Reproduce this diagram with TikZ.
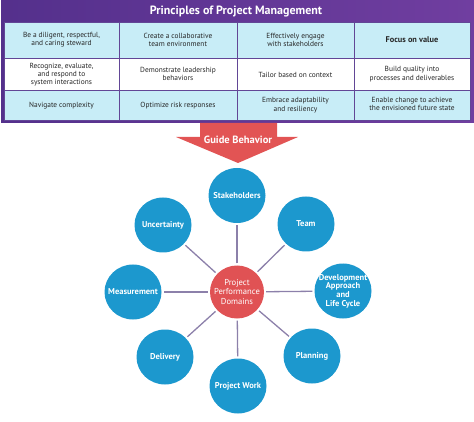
\documentclass[tikz,border=0pt]{standalone}
\usepackage{fontspec}
\setmainfont{PT Sans}
\usetikzlibrary{shapes.geometric}

\definecolor{tablepurple}{RGB}{84,48,140}
\definecolor{titlepurple}{RGB}{112,62,160}
\definecolor{gridpurple}{RGB}{98,70,150}
\definecolor{rowcyan}{RGB}{200,237,247}
\definecolor{arrowred}{RGB}{226,84,84}
\definecolor{hubred}{RGB}{224,82,84}
\definecolor{domainblue}{RGB}{28,152,206}
\definecolor{linkgrey}{RGB}{140,128,170}

\begin{document}
\begin{tikzpicture}[x=1pt,y=-1pt,
  cell/.style={font=\fontsize{7.4}{8.3}\selectfont,text=black!85,align=center,anchor=center},
  domainnode/.style={ellipse,fill=domainblue,minimum width=57pt,minimum height=55pt,inner sep=-7pt,
    text=white,font=\fontsize{8.5}{8.6}\selectfont\bfseries,align=center},
  link/.style={draw=linkgrey,line width=1.3pt,shorten <=2pt,shorten >=2pt}]
\useasboundingbox (0,0) rectangle (474,422);

% table frame and title bar
\fill[left color=tablepurple,right color=titlepurple] (1,0) rectangle (474,123);
\node[font=\fontsize{12}{14}\selectfont\bfseries,text=white] (title) at (236,11.5) {Principles of Project Management};

% cells
\draw[fill=rowcyan,draw=gridpurple,thin] (4,22) rectangle (119,58);
\draw[fill=rowcyan,draw=gridpurple,thin] (119,22) rectangle (237,58);
\draw[fill=rowcyan,draw=gridpurple,thin] (237,22) rectangle (354,58);
\draw[fill=rowcyan,draw=gridpurple,thin] (354,22) rectangle (470,58);
\draw[fill=white,draw=gridpurple,thin] (4,58) rectangle (119,90);
\draw[fill=white,draw=gridpurple,thin] (119,58) rectangle (237,90);
\draw[fill=white,draw=gridpurple,thin] (237,58) rectangle (354,90);
\draw[fill=white,draw=gridpurple,thin] (354,58) rectangle (470,90);
\draw[fill=rowcyan,draw=gridpurple,thin] (4,90) rectangle (119,120.5);
\draw[fill=rowcyan,draw=gridpurple,thin] (119,90) rectangle (237,120.5);
\draw[fill=rowcyan,draw=gridpurple,thin] (237,90) rectangle (354,120.5);
\draw[fill=rowcyan,draw=gridpurple,thin] (354,90) rectangle (470,120.5);

\node[cell] (steward) at (61.5,40) {Be a diligent, respectful,\\and caring steward};
\node[cell] (team env) at (178,40) {Create a collaborative\\team environment};
\node[cell] (engage) at (295.5,40) {Effectively engage\\with stakeholders};
\node[cell,font=\fontsize{8.3}{9}\selectfont\bfseries] (value) at (412,40) {Focus on value};
\node[cell] (systems) at (61.5,74.5) {Recognize, evaluate,\\and respond to\\system interactions};
\node[cell] (leader) at (178,74) {Demonstrate leadership\\behaviors};
\node[cell] (tailor) at (295.5,75) {Tailor based on context};
\node[cell] (quality) at (412,74) {Build quality into\\processes and deliverables};
\node[cell] (complex) at (61.5,106) {Navigate complexity};
\node[cell] (risk) at (178,105.5) {Optimize risk responses};
\node[cell] (adapt) at (295.5,105) {Embrace adaptability\\and resiliency};
\node[cell] (change) at (412,104) {Enable change to achieve\\the envisioned future state};

% guide behavior arrow
\fill[arrowred] (200,123) -- (277,123) -- (277,137) -- (298,137) -- (238,163) -- (176,137) -- (200,137) -- cycle;
\node[font=\fontsize{10.5}{12}\selectfont\bfseries,text=white] (guide) at (238,140) {Guide Behavior};

% performance domains
\node[domainnode,fill=hubred,minimum width=54pt,minimum height=53pt,font=\fontsize{8.6}{9.5}\selectfont] (hub) at (237,292) {Project\\Performance\\Domains};
\node[domainnode] (stake) at (237,195.5) {Stakeholders};
\node[domainnode] (team) at (306,224) {Team};
\node[domainnode] (uncert) at (163,225) {Uncertainty};
\node[domainnode] (measure) at (133,292) {Measurement};
\node[domainnode] (devel) at (343,291) {Development\\Approach\\and\\Life Cycle};
\node[domainnode] (deliv) at (165,357) {Delivery};
\node[domainnode] (plan) at (312,356) {Planning};
\node[domainnode] (work) at (238,386) {Project Work};

\draw[link] (hub) -- (stake);
\draw[link] (hub) -- (team);
\draw[link] (hub) -- (uncert);
\draw[link] (hub) -- (measure);
\draw[link] (hub) -- (devel);
\draw[link] (hub) -- (deliv);
\draw[link] (hub) -- (plan);
\draw[link] (hub) -- (work);

\end{tikzpicture}
\end{document}
